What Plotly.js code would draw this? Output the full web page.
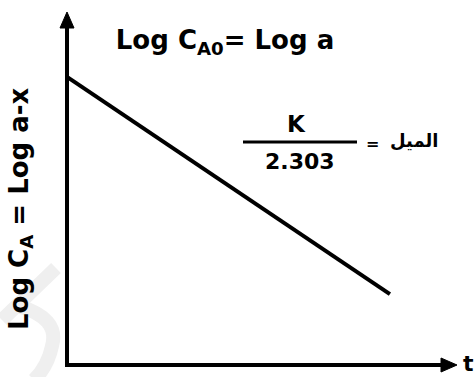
<!DOCTYPE html>
<html>
<head>
<meta charset="utf-8">
<script src="https://cdn.plot.ly/plotly-3.0.1.min.js"></script>
<style>
  html, body { margin: 0; padding: 0; background: #fff; }
  #chart { width: 476px; height: 377px; }
</style>
</head>
<body>
<div id="chart"></div>
<script>
// First-order reaction: log concentration falls linearly with time
const timeValues = [0, 8.28];
const logConcValues = [8.16, 2.01];

const axisMax = 10;
const titleText = 'Log C<sub>A0</sub>= Log a';
const yLabelText = 'Log C<sub>A</sub> = Log a-x';
const xLabelText = 't';
const slopeNumerator = 'K';
const slopeDenominator = '2.303';
const slopeName = 'الميل';

const ink = '#000000';
const mainFont = { family: 'DejaVu Sans, Open Sans, sans-serif', color: ink, weight: 'bold' };

const trace = {
  x: timeValues,
  y: logConcValues,
  mode: 'lines',
  line: { color: ink, width: 4 },
  hoverinfo: 'skip',
  showlegend: false
};

// pixel frame of the plotting area
const plotLeft = 67, plotRight = 457, plotTop = 12, plotBottom = 365;
const W = 476, H = 377;
const px = v => (v - plotLeft) / (plotRight - plotLeft);
const py = v => (plotBottom - v) / (plotBottom - plotTop);
const pt = (x, y) => px(x) + ',' + py(y);

// arrow-headed axes
const headLen = 16, headHalf = 7;
const axisShapes = [
  { type: 'line', xref: 'paper', yref: 'paper',
    x0: 0, x1: 0, y0: py(plotBottom + 2), y1: py(plotTop + headLen - 2),
    line: { color: ink, width: 4 } },
  { type: 'line', xref: 'paper', yref: 'paper',
    x0: px(plotLeft - 2), x1: px(plotRight - headLen + 2), y0: 0, y1: 0,
    line: { color: ink, width: 4 } },
  { type: 'path', xref: 'paper', yref: 'paper',
    path: 'M' + pt(plotLeft, plotTop) + ' L' + pt(plotLeft - headHalf, plotTop + headLen) +
          ' L' + pt(plotLeft + headHalf, plotTop + headLen) + ' Z',
    fillcolor: ink, line: { color: ink, width: 1 } },
  { type: 'path', xref: 'paper', yref: 'paper',
    path: 'M' + pt(plotRight, plotBottom) + ' L' + pt(plotRight - headLen, plotBottom - headHalf) +
          ' L' + pt(plotRight - headLen, plotBottom + headHalf) + ' Z',
    fillcolor: ink, line: { color: ink, width: 1 } }
];

// faint background ring in the lower-left corner
const ringShapes = [
  { type: 'path', xref: 'paper', yref: 'paper', layer: 'below',
    path: 'M' + pt(56, 268) + ' L' + pt(2, 320),
    line: { color: '#efefef', width: 14 } },
  { type: 'path', xref: 'paper', yref: 'paper', layer: 'below',
    path: 'M' + pt(18, 306) + ' Q' + pt(60, 318) + ' ' + pt(52, 346) +
          ' Q' + pt(48, 366) + ' ' + pt(34, 380),
    line: { color: '#efefef', width: 14 } }
];

const layout = {
  width: W,
  height: H,
  margin: { l: plotLeft, r: W - plotRight, t: plotTop, b: H - plotBottom, pad: 0 },
  paper_bgcolor: '#ffffff',
  plot_bgcolor: 'rgba(0,0,0,0)',
  showlegend: false,
  title: {
    text: titleText,
    x: 225 / W,
    xanchor: 'center',
    y: 1 - 40 / H,
    yanchor: 'middle',
    font: Object.assign({}, mainFont, { size: 26 })
  },
  xaxis: {
    range: [0, axisMax], showgrid: false, zeroline: false, showline: false,
    showticklabels: false, ticks: '', fixedrange: true
  },
  yaxis: {
    range: [0, axisMax], showgrid: false, zeroline: false, showline: false,
    showticklabels: false, ticks: '', fixedrange: true
  },
  shapes: ringShapes.concat(axisShapes, [
    // fraction bar of the slope label
    {
      type: 'line', xref: 'paper', yref: 'paper',
      x0: px(243), x1: px(357), y0: py(142), y1: py(142),
      line: { color: ink, width: 3 }
    }
  ]),
  annotations: [
    {
      text: xLabelText, xref: 'paper', yref: 'paper',
      x: px(469), y: py(363), xanchor: 'center', yanchor: 'middle', showarrow: false,
      font: Object.assign({}, mainFont, { size: 22 })
    },
    {
      text: yLabelText, xref: 'paper', yref: 'paper', textangle: -90,
      x: px(20), y: py(209), xanchor: 'center', yanchor: 'middle', showarrow: false,
      font: Object.assign({}, mainFont, { size: 26 })
    },
    {
      text: slopeNumerator, xref: 'paper', yref: 'paper',
      x: px(296), y: py(124), xanchor: 'center', yanchor: 'middle', showarrow: false,
      font: Object.assign({}, mainFont, { size: 23 })
    },
    {
      text: slopeDenominator, xref: 'paper', yref: 'paper',
      x: px(300), y: py(162), xanchor: 'center', yanchor: 'middle', showarrow: false,
      font: Object.assign({}, mainFont, { size: 22 })
    },
    {
      text: '=', xref: 'paper', yref: 'paper',
      x: px(372), y: py(143), xanchor: 'center', yanchor: 'middle', showarrow: false,
      font: Object.assign({}, mainFont, { size: 16 })
    },
    {
      text: slopeName, xref: 'paper', yref: 'paper',
      x: px(414), y: py(140), xanchor: 'center', yanchor: 'middle', showarrow: false,
      font: Object.assign({}, mainFont, { size: 18 })
    }
  ]
};

Plotly.newPlot('chart', [trace], layout, { staticPlot: true, displayModeBar: false });
</script>
</body>
</html>
